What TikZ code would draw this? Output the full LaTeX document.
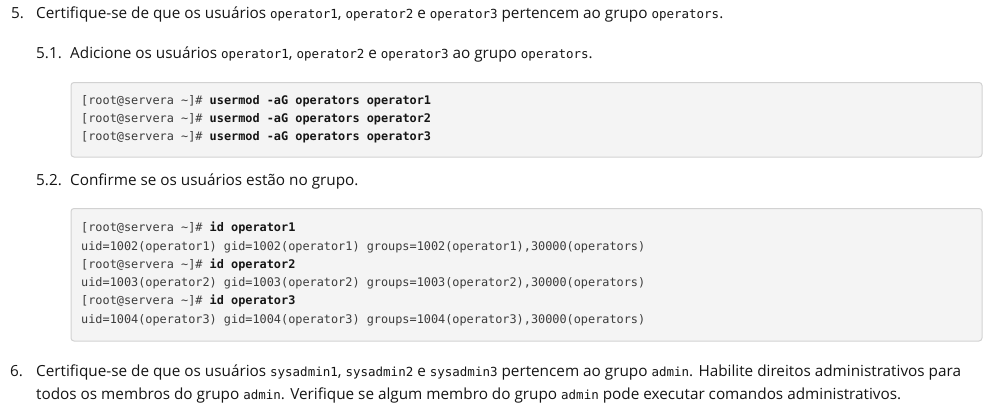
\documentclass[tikz,border=0pt]{standalone}
\usepackage{fontspec}
\setmainfont{Open Sans}
\newfontfamily\codefont{DejaVu Sans Mono}
\newfontfamily\inlinefont{DejaVu Sans Mono}
\definecolor{bodytext}{HTML}{151515}
\definecolor{codebg}{HTML}{F4F4F4}
\definecolor{codeborder}{HTML}{D2D2D2}
\definecolor{codetext}{HTML}{3C3C3C}
\newcommand{\ic}[1]{{\inlinefont\fontsize{12.5}{14}\selectfont #1}}
\newcommand{\cmdb}[1]{{\bfseries\color{bodytext}#1}}
\tikzset{
  bodyline/.style={anchor=base west, inner sep=0pt, text=bodytext, font=\fontsize{15.3}{18}\selectfont},
  codeline/.style={anchor=base west, inner sep=0pt, text=codetext, font=\codefont\fontsize{11.86}{14}\selectfont},
  codebox/.style={draw=codeborder, fill=codebg, line width=1pt, rounded corners=3pt},
}
\begin{document}
\begin{tikzpicture}[x=1pt,y=-1pt]
\useasboundingbox (0,0) rectangle (995,415);
\fill[white] (0,0) rectangle (995,415);
% step 5
\node[bodyline] (n5) at (11,18.5) {5.};
\node[bodyline] (t5) at (36,18.5) {Certifique-se de que os usuários \ic{operator1}, \ic{operator2} e \ic{operator3} pertencem ao grupo \ic{operators}.};
% 5.1
\node[bodyline] (n51) at (36,58) {5.1.};
\node[bodyline] (t51) at (70,58) {Adicione os usuários \ic{operator1}, \ic{operator2} e \ic{operator3} ao grupo \ic{operators}.};
\path[codebox] (71,82.5) rectangle (982,157) node[coordinate] (box1) {};
\node[codeline] (c11) at (81,104) {[root@servera \textasciitilde]\# \cmdb{usermod -aG operators operator1}};
\node[codeline] (c12) at (81,122.3) {[root@servera \textasciitilde]\# \cmdb{usermod -aG operators operator2}};
\node[codeline] (c13) at (81,140.6) {[root@servera \textasciitilde]\# \cmdb{usermod -aG operators operator3}};
% 5.2
\node[bodyline] (n52) at (36,185) {5.2.};
\node[bodyline] (t52) at (70,185) {Confirme se os usuários estão no grupo.};
\path[codebox] (71,208.5) rectangle (982,341) node[coordinate] (box2) {};
\node[codeline] (c21) at (81,231.7) {[root@servera \textasciitilde]\# \cmdb{id operator1}};
\node[codeline] (c22) at (81,250) {uid=1002(operator1) gid=1002(operator1) groups=1002(operator1),30000(operators)};
\node[codeline] (c23) at (81,268.3) {[root@servera \textasciitilde]\# \cmdb{id operator2}};
\node[codeline] (c24) at (81,286.6) {uid=1003(operator2) gid=1003(operator2) groups=1003(operator2),30000(operators)};
\node[codeline] (c25) at (81,304.9) {[root@servera \textasciitilde]\# \cmdb{id operator3}};
\node[codeline] (c26) at (81,323.2) {uid=1004(operator3) gid=1004(operator3) groups=1004(operator3),30000(operators)};
% step 6
\node[bodyline] (n6) at (10,376.7) {6.};
\node[bodyline] (t6a) at (36,376.7) {Certifique-se de que os usuários \ic{sysadmin1}, \ic{sysadmin2} e \ic{sysadmin3} pertencem ao grupo \ic{admin}. Habilite direitos administrativos para};
\node[bodyline] (t6b) at (36,399.5) {todos os membros do grupo \ic{admin}. Verifique se algum membro do grupo \ic{admin} pode executar comandos administrativos.};
\end{tikzpicture}
\end{document}
